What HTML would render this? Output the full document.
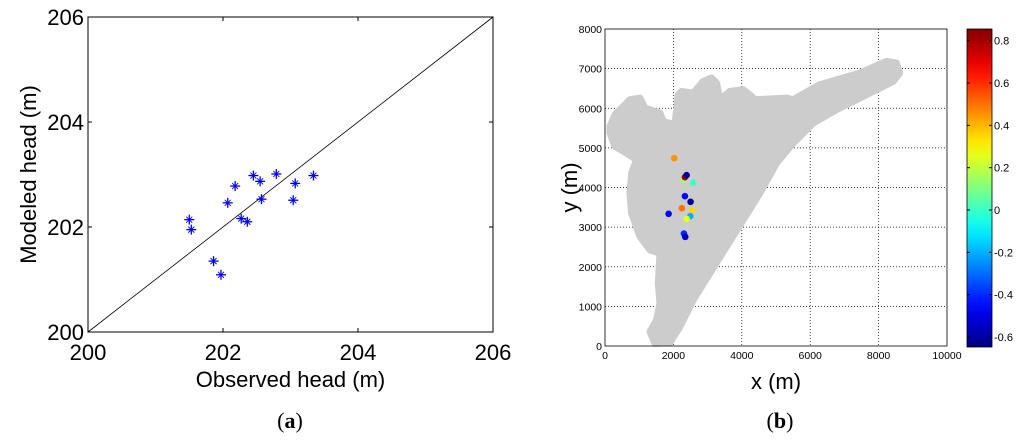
<!DOCTYPE html>
<html><head><meta charset="utf-8"><style>
body{margin:0;background:#fff;}
svg text{font-family:"Liberation Sans",sans-serif;}
</style></head><body>
<svg id="s" width="1024" height="441" viewBox="0 0 1024 441" xmlns="http://www.w3.org/2000/svg">
<g id="A"></g>
<g id="B"></g>
<text x="290" y="428" text-anchor="middle" font-size="22" style="font-family:'Liberation Serif',serif">(<tspan font-weight="bold">a</tspan>)</text>
<text x="780" y="428" text-anchor="middle" font-size="22" style="font-family:'Liberation Serif',serif">(<tspan font-weight="bold">b</tspan>)</text>
</svg>
<script>
const obsHead=[201.50,201.53,201.86,201.97,202.07,202.18,202.27,202.36,202.45,202.55,202.57,202.79,203.07,203.04,203.34];
const modHead=[202.14,201.95,201.35,201.09,202.46,202.78,202.16,202.10,202.98,202.87,202.53,203.01,202.83,202.51,202.98];
const aTicks=[200,202,204,206];
const wellX=[2025,2308,2249,2551,2493,2386,1860,2337,2308,2347,2580,2337,2386,2502];
const wellY=[4741,4194,3478,3427,3276,3208,3335,3781,2838,2754,4118,4261,4312,3638];
const wellErr=[0.45,0.15,0.5,0.35,-0.2,0.25,-0.45,-0.45,-0.4,-0.55,0.0,0.8,-0.6,-0.6];
const bxTicks=[0,2000,4000,6000,8000,10000];
const byTicks=[0,1000,2000,3000,4000,5000,6000,7000,8000];
const cbTicks=[-0.6,-0.4,-0.2,0,0.2,0.4,0.6,0.8];
const lakeOutline=[[146,5541],[292,5836],[730,6215],[1022,6257],[1168,6004],[1607,5878],[1704,5667],[2045,5583],[2142,6341],[2240,6425],[2580,6383],[2872,6678],[3116,6762],[3262,6636],[3359,6215],[3651,6425],[4041,6467],[4235,6341],[4382,6215],[5307,6257],[5501,6215],[6280,6594],[7449,6888],[8228,7183],[8520,7141],[8617,6888],[8423,6678],[8033,6509],[7449,6257],[6767,5962],[6086,5625],[5501,5120],[5015,4615],[4528,3857],[4041,3183],[3554,2509],[3067,1836],[2580,1162],[2191,488],[1899,84],[1461,67],[1315,362],[1509,657],[1607,1078],[1558,1583],[1607,2341],[1315,2425],[1022,2762],[779,3352],[730,3857],[779,4362],[925,4699],[633,4867],[292,5036],[146,5373]];
const NS='http://www.w3.org/2000/svg';
function mk(p,t,a,txt){const e=document.createElementNS(NS,t);for(const k in a)e.setAttribute(k,a[k]);if(txt!==undefined)e.textContent=txt;p.appendChild(e);return e;}
const A=document.getElementById('A');
const aL=88,aR=493,aT=17,aB=332;
const ax=v=>aL+(v-200)/6*(aR-aL), ay=v=>aB-(v-200)/6*(aB-aT);
let r=mk(A,'rect',{x:aL,y:aT,width:aR-aL,height:aB-aT,fill:'#fff',stroke:'#000','stroke-width':1});

let l=mk(A,'line',{x1:ax(200),y1:ay(200),x2:ax(206),y2:ay(206),stroke:'#000','stroke-width':0.8});

aTicks.forEach(t=>{
 mk(A,'line',{x1:ax(t),y1:aB,x2:ax(t),y2:aB-4,stroke:'#000'});mk(A,'line',{x1:ax(t),y1:aT,x2:ax(t),y2:aT+4,stroke:'#000'});
 mk(A,'line',{x1:aL,y1:ay(t),x2:aL+4,y2:ay(t),stroke:'#000'});mk(A,'line',{x1:aR,y1:ay(t),x2:aR-4,y2:ay(t),stroke:'#000'});
 let tx=mk(A,'text',{x:ax(t),y:360,'text-anchor':'middle','font-size':22},String(t));
 
 let ty=mk(A,'text',{x:aL-4,y:ay(t)+8,'text-anchor':'end','font-size':22},String(t));
 
});
let xt=mk(A,'text',{x:ax(203),y:387,'text-anchor':'middle','font-size':22},'Observed head (m)');

let yt=mk(A,'text',{x:0,y:0,'text-anchor':'middle','font-size':22,transform:`translate(36,${(aT+aB)/2}) rotate(-90)`},'Modeled head (m)');

obsHead.forEach((o,i)=>{const x=ax(o),y=ay(modHead[i]);
 const g=mk(A,'g',{stroke:'#0000ff','stroke-width':1.3});
 
 mk(g,'line',{x1:x-5,y1:y,x2:x+5,y2:y});mk(g,'line',{x1:x,y1:y-5,x2:x,y2:y+5});
 mk(g,'line',{x1:x-3,y1:y-3,x2:x+3,y2:y+3,'stroke-width':0.9});mk(g,'line',{x1:x-3,y1:y+3,x2:x+3,y2:y-3,'stroke-width':0.9});
});
const B=document.getElementById('B');
const bL=605,bR=947,bT=29,bB=346;
const bx=v=>bL+v/10000*(bR-bL), by=v=>bB-v/8000*(bB-bT);
r=mk(B,'rect',{x:bL,y:bT,width:bR-bL,height:bB-bT,fill:'#fff'});

bxTicks.forEach(t=>{if(t>0&&t<10000)mk(B,'line',{x1:bx(t),y1:bT,x2:bx(t),y2:bB,stroke:'#000','stroke-width':0.7,'stroke-dasharray':'1,2'});
 let e=mk(B,'text',{x:bx(t),y:bB+13,'text-anchor':'middle','font-size':10.5},String(t));});
byTicks.forEach(t=>{if(t>0&&t<8000)mk(B,'line',{x1:bL,y1:by(t),x2:bR,y2:by(t),stroke:'#000','stroke-width':0.7,'stroke-dasharray':'1,2'});
 let e=mk(B,'text',{x:bL-3,y:by(t)+4,'text-anchor':'end','font-size':10.5},String(t));});
let poly=mk(B,'polygon',{points:lakeOutline.map(p=>bx(p[0])+','+by(p[1])).join(' '),fill:'#cccccc',stroke:'#cccccc','stroke-width':7,'stroke-linejoin':'round'});

mk(B,'rect',{x:bL,y:bT,width:bR-bL,height:bB-bT,fill:'none',stroke:'#000','stroke-width':0.8});
function jet(v){const t=Math.max(0,Math.min(1,v));const f=x=>Math.round(255*Math.max(0,Math.min(1,1.5-Math.abs(4*t-x))));return `rgb(${f(3)},${f(2)},${f(1)})`;}
const cMin=-0.647,cMax=0.855;
wellX.forEach((x,i)=>{let c=mk(B,'circle',{cx:bx(x),cy:by(wellY[i]),r:3.3,fill:jet((wellErr[i]-cMin)/(cMax-cMin))});
 });
let bxt=mk(B,'text',{x:bx(5000),y:389,'text-anchor':'middle','font-size':22},'x (m)');
let byt=mk(B,'text',{x:0,y:0,'text-anchor':'middle','font-size':22,transform:`translate(577,${(bT+bB)/2}) rotate(-90)`},'y (m)');
const cL=967,cR=992,cT=29,cB=347;
const defs=mk(B,'defs',{});const gr=mk(defs,'linearGradient',{id:'jg',x1:0,y1:1,x2:0,y2:0});
for(let k=0;k<=20;k++)mk(gr,'stop',{offset:k/20,'stop-color':jet(k/20)});
let cb=mk(B,'rect',{x:cL,y:cT,width:cR-cL,height:cB-cT,fill:'url(#jg)',stroke:'#000','stroke-width':0.8});

const cy=v=>cB-(v-cMin)/(cMax-cMin)*(cB-cT);
cbTicks.forEach(t=>{mk(B,'line',{x1:cL,y1:cy(t),x2:cL+3,y2:cy(t),stroke:'#000'});mk(B,'line',{x1:cR,y1:cy(t),x2:cR-3,y2:cy(t),stroke:'#000'});
 let e=mk(B,'text',{x:cR+2,y:cy(t)+4,'font-size':11},String(t));});
</script>
</body></html>
